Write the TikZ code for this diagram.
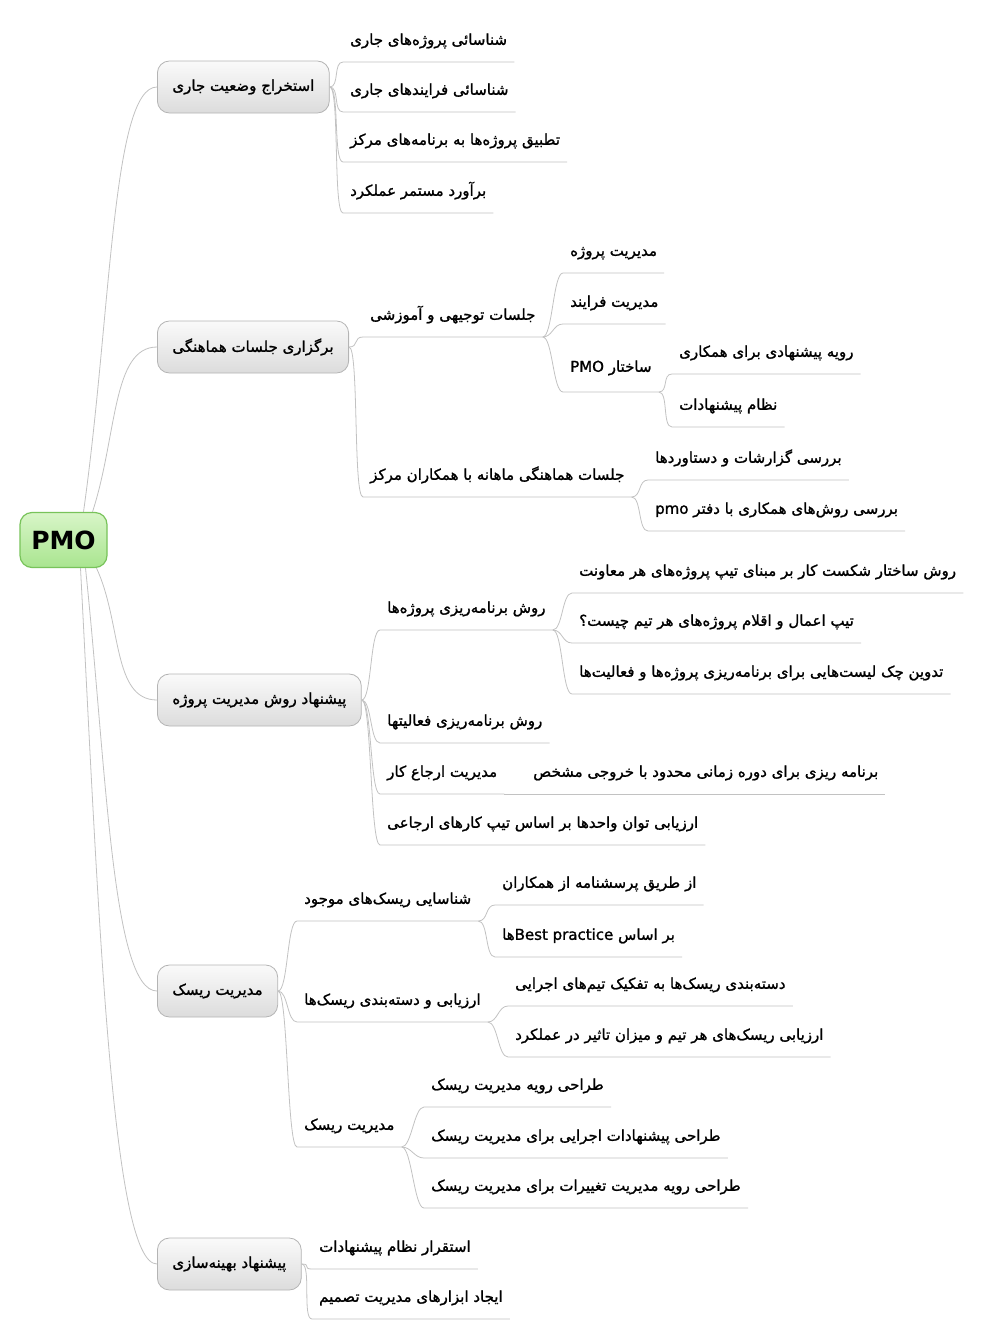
\documentclass[tikz,border=0pt]{standalone}
\usepackage{fontspec}
\setmainfont{DejaVu Sans}
\newfontfamily\fafont[Script=Arabic, FakeBold=1.3]{DejaVu Sans}
\TeXXeTstate=1
\newcommand{\fa}[1]{\beginR #1\endR}
\newcommand{\zw}{^^^^200c}
\definecolor{linegray}{HTML}{C2C2C2}
\definecolor{boxgray}{HTML}{B4B4B4}
\definecolor{boxtop}{HTML}{FAFAFA}
\definecolor{boxbottom}{HTML}{DCDCDC}
\definecolor{rootgreen}{HTML}{78C35A}
\definecolor{roottop}{HTML}{D8F5C8}
\definecolor{rootbottom}{HTML}{A9E58F}

\begin{document}
\begin{tikzpicture}[x=1pt,y=-1pt,
    link/.style={draw=linegray, line width=0.8pt},
    twig/.style={out=0, in=180, distance=10pt},
    stem/.style 2 args={out=#1, in=180, out distance=#2, in distance=45pt},
    leaf/.style={anchor=south west, font=\fafont\fontsize{15}{17}\selectfont,
        inner xsep=7pt, inner ysep=3pt, text height=11pt, text depth=14pt},
    topic/.style={anchor=west, draw=boxgray, line width=0.8pt, rounded corners=12pt,
        top color=boxtop, bottom color=boxbottom, minimum height=52pt, inner xsep=15pt,
        font=\fafont\fontsize{15}{17}\selectfont}]
    \useasboundingbox (0,0) rectangle (988,1339);

    % Root and main topics
    \node[draw=rootgreen, line width=1.2pt, rounded corners=12pt, top color=roottop,
        bottom color=rootbottom, minimum width=87pt, minimum height=55pt,
        font=\bfseries\fontsize{25}{28}\selectfont] (pmo) at (63.5,540) {PMO};
    \node[topic] (st) at (157,87) {\fa{استخراج وضعیت جاری}};
    \node[topic] (jl) at (157,347) {\fa{برگزاری جلسات هماهنگی}};
    \node[topic] (pr) at (157,700) {\fa{پیشنهاد روش مدیریت پروژه}};
    \node[topic] (rk) at (157,991) {\fa{مدیریت ریسک}};
    \node[topic] (bh) at (157,1264) {\fa{پیشنهاد بهینه\zw سازی}};

    \draw[link] ([xshift=20pt]pmo.north) to[stem={82}{200pt}] (st.west);
    \draw[link] ([xshift=29pt]pmo.north) to[stem={72}{80pt}] (jl.west);
    \draw[link] ([xshift=33pt]pmo.south) to[stem={-65}{60pt}] (pr.west);
    \draw[link] ([xshift=22pt]pmo.south) to[stem={-84}{200pt}] (rk.west);
    \draw[link] ([xshift=17pt]pmo.south) to[stem={-87}{350pt}] (bh.west);

    % Current state
    \node[leaf] (a1) at (343,62) {\fa{شناسائی پروژه\zw های جاری}};
    \node[leaf] (a2) at (343,112) {\fa{شناسائی فرایندهای جاری}};
    \node[leaf] (a3) at (343,162) {\fa{تطبیق پروژه\zw ها به برنامه\zw های مرکز}};
    \node[leaf] (a4) at (343,213) {\fa{برآورد مستمر عملکرد}};
    \foreach \n in {a1,a2,a3,a4}
        \draw[link] (st.east) to[twig] (\n.south west) -- (\n.south east);

    % Meetings
    \node[leaf] (b1) at (363,337) {\fa{جلسات توجیهی و آموزشی}};
    \node[leaf] (b2) at (363,497) {\fa{جلسات هماهنگی ماهانه با همکاران مرکز}};
    \foreach \n in {b1,b2}
        \draw[link] (jl.east) to[twig] (\n.south west) -- (\n.south east);
    \node[leaf] (b11) at (563,273) {\fa{مدیریت پروژه}};
    \node[leaf] (b12) at (563,324) {\fa{مدیریت فرایند}};
    \node[leaf, text depth=17pt] (b13) at (563,392) {\fa{ساختار PMO}};
    \foreach \n in {b11,b12,b13}
        \draw[link] (b1.south east) to[twig] (\n.south west) -- (\n.south east);
    \node[leaf] (b131) at (672,374) {\fa{رویه پیشنهادی برای همکاری}};
    \node[leaf] (b132) at (672,427) {\fa{نظام پیشنهادات}};
    \foreach \n in {b131,b132}
        \draw[link] (b13.south east) to[twig] (\n.south west) -- (\n.south east);
    \node[leaf] (b21) at (648,480) {\fa{بررسی گزارشات و دستاوردها}};
    \node[leaf] (b22) at (648,531) {\fa{بررسی روش\zw های همکاری با دفتر pmo}};
    \foreach \n in {b21,b22}
        \draw[link] (b2.south east) to[twig] (\n.south west) -- (\n.south east);

    % Project management
    \node[leaf] (c1) at (380,630) {\fa{روش برنامه\zw ریزی پروژه\zw ها}};
    \node[leaf] (c2) at (380,743) {\fa{روش برنامه\zw ریزی فعالیتها}};
    \node[leaf] (c3) at (380,794) {\fa{مدیریت ارجاع کار}};
    \node[leaf] (c4) at (380,845) {\fa{ارزیابی توان واحدها بر اساس تیپ کارهای ارجاعی}};
    \foreach \n in {c1,c2,c3,c4}
        \draw[link] (pr.east) to[twig] (\n.south west) -- (\n.south east);
    \node[leaf] (c11) at (572,593) {\fa{روش ساختار شکست کار بر مبنای تیپ پروژه\zw های هر معاونت}};
    \node[leaf] (c12) at (572,643) {\fa{تیپ اعمال و اقلام پروژه\zw های هر تیم چیست؟}};
    \node[leaf] (c13) at (572,694) {\fa{تدوین چک لیست\zw هایی برای برنامه\zw ریزی پروژه\zw ها و فعالیت\zw ها}};
    \foreach \n in {c11,c12,c13}
        \draw[link] (c1.south east) to[twig] (\n.south west) -- (\n.south east);
    \node[leaf] (c31) at (526,794) {\fa{برنامه ریزی برای دوره زمانی محدود با خروجی مشخص}};
    \draw[link] (c3.south east) -- (c31.south west) -- (c31.south east);

    % Risk
    \node[leaf] (d1) at (297,921) {\fa{شناسایی ریسک\zw های موجود}};
    \node[leaf] (d2) at (297,1022) {\fa{ارزیابی و دسته\zw بندی ریسک\zw ها}};
    \node[leaf] (d3) at (297,1147) {\fa{مدیریت ریسک}};
    \foreach \n in {d1,d2,d3}
        \draw[link] (rk.east) to[twig] (\n.south west) -- (\n.south east);
    \node[leaf] (d11) at (495,905) {\fa{از طریق پرسشنامه از همکاران}};
    \node[leaf] (d12) at (495,957) {\fa{بر اساس \beginL Best practice\endL{}ها}};
    \foreach \n in {d11,d12}
        \draw[link] (d1.south east) to[twig] (\n.south west) -- (\n.south east);
    \node[leaf] (d21) at (508,1006) {\fa{دسته\zw بندی ریسک\zw ها به تفکیک تیم\zw های اجرایی}};
    \node[leaf] (d22) at (508,1057) {\fa{ارزیابی ریسک\zw های هر تیم و میزان تاثیر در عملکرد}};
    \foreach \n in {d21,d22}
        \draw[link] (d2.south east) to[twig] (\n.south west) -- (\n.south east);
    \node[leaf] (d31) at (424,1107) {\fa{طراحی رویه مدیریت ریسک}};
    \node[leaf] (d32) at (424,1158) {\fa{طراحی پیشنهادات اجرایی برای مدیریت ریسک}};
    \node[leaf] (d33) at (424,1208) {\fa{طراحی رویه مدیریت تغییرات برای مدیریت ریسک}};
    \foreach \n in {d31,d32,d33}
        \draw[link] (d3.south east) to[twig] (\n.south west) -- (\n.south east);

    % Optimisation
    \node[leaf] (e1) at (312,1269) {\fa{استقرار نظام پیشنهادات}};
    \node[leaf] (e2) at (312,1319) {\fa{ایجاد ابزارهای مدیریت تصمیم}};
    \foreach \n in {e1,e2}
        \draw[link] (bh.east) to[twig] (\n.south west) -- (\n.south east);
\end{tikzpicture}
\end{document}
